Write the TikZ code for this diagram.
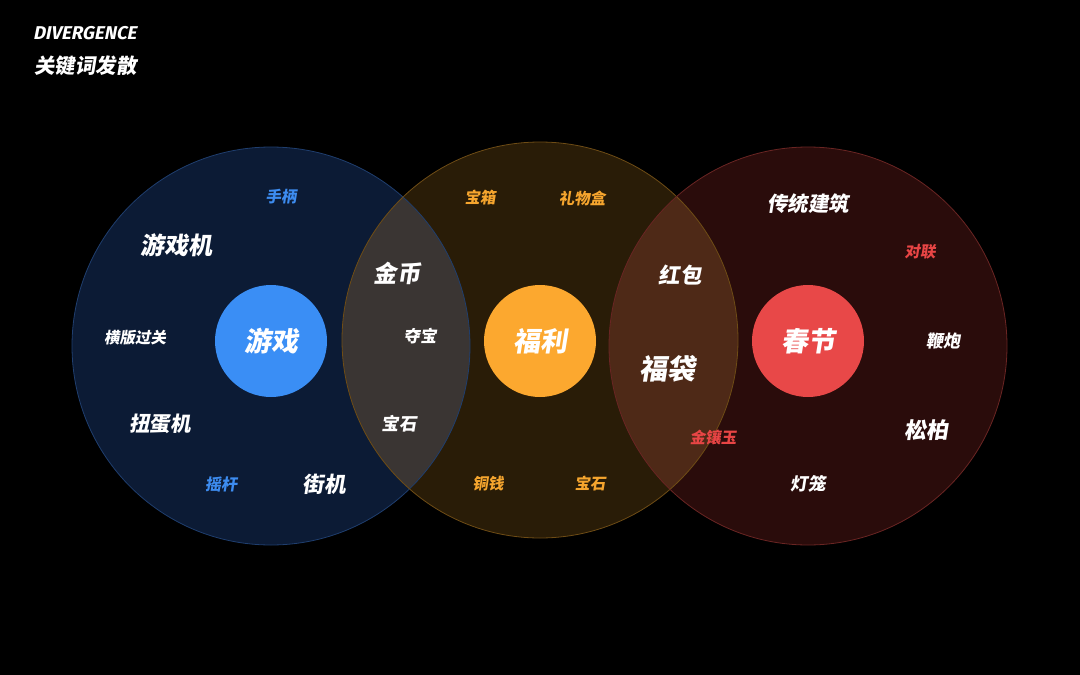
\documentclass[tikz,border=0pt]{standalone}
\usepackage{fontspec}
\setmainfont{Noto Sans CJK SC}
\newfontfamily\cjk[FakeSlant=0.16]{Noto Sans CJK SC}
\newfontfamily\latinit[FakeSlant=0.2]{Fira Sans}
\definecolor{bgc}{HTML}{000000}
\definecolor{bluefill}{HTML}{0C1B35}
\definecolor{blueedge}{HTML}{1F3E6E}
\definecolor{orfill}{HTML}{291C07}
\definecolor{oredge}{HTML}{6E4C15}
\definecolor{redfill}{HTML}{2A0C0B}
\definecolor{rededge}{HTML}{6A2523}
\definecolor{ovlA}{HTML}{3A3533}
\definecolor{ovlB}{HTML}{4E2917}
\definecolor{bluec}{HTML}{3A8EF5}
\definecolor{orc}{HTML}{FCA82F}
\definecolor{redc}{HTML}{E84848}
\definecolor{bluetxt}{HTML}{3D8CF0}
\definecolor{ortxt}{HTML}{F5A52E}
\definecolor{redtxt}{HTML}{E84545}
\tikzset{
  kw/.style={inner sep=0pt, text=white, font=\cjk\bfseries\fontsize{#1}{#1}\selectfont},
  kw/.default=16,
  hub/.style={circle, minimum size=112pt, inner sep=0pt, text=white, font=\cjk\bfseries\fontsize{27}{27}\selectfont},
}
\begin{document}
\begin{tikzpicture}[x=1pt,y=-1pt]
\fill[bgc] (0,0) rectangle (1080,675);
\useasboundingbox (0,0) rectangle (1080,675);
% big circles
\fill[bluefill] (271,346) circle (199);
\fill[orfill] (540,340) circle (198);
\fill[redfill] (808,346) circle (199);
% overlaps
\begin{scope}
  \clip (271,346) circle (199);
  \fill[ovlA] (540,340) circle (198);
\end{scope}
\begin{scope}
  \clip (540,340) circle (198);
  \fill[ovlB] (808,346) circle (199);
\end{scope}
\draw[blueedge, line width=0.8pt] (271,346) circle (199);
\draw[oredge, line width=0.8pt] (540,340) circle (198);
\draw[rededge, line width=0.8pt] (808,346) circle (199);
% hubs
\node[hub, fill=bluec] (game) at (271,341) {游戏};
\node[hub, fill=orc] (welfare) at (540,341) {福利};
\node[hub, fill=redc] (spring) at (808,341) {春节};
% title
\node[anchor=west, inner sep=0pt, text=white, font=\latinit\bfseries\fontsize{18.5}{18.5}\selectfont] (t1) at (33,33) {DIVERGENCE};
\node[anchor=west, inner sep=0pt, text=white, font=\cjk\bfseries\fontsize{20.5}{20.5}\selectfont] (t2) at (34,66) {关键词发散};
% left circle words
\node[kw=15.5, text=bluetxt] (w1) at (281,197) {手柄};
\node[kw=24] (w2) at (176,245) {游戏机};
\node[kw=15.5] (w3) at (135,338) {横版过关};
\node[kw=20.5] (w4) at (160,424) {扭蛋机};
\node[kw=16, text=bluetxt] (w5) at (221,484) {摇杆};
\node[kw=21.5] (w6) at (324,484) {街机};
% left overlap
\node[kw=23.5] (w7) at (397,273) {金币};
\node[kw=16.5] (w8) at (420,336) {夺宝};
\node[kw=17.5] (w9) at (399,424) {宝石};
% middle
\node[kw=15.5, text=ortxt] (w10) at (480,198) {宝箱};
\node[kw=15.5, text=ortxt] (w11) at (582,198) {礼物盒};
\node[kw=15.5, text=ortxt] (w12) at (488,484) {铜钱};
\node[kw=15.5, text=ortxt] (w13) at (590,484) {宝石};
% right overlap
\node[kw=21.5] (w14) at (680,275) {红包};
\node[kw=28] (w15) at (667,369) {福袋};
\node[kw=15.5, text=redtxt] (w16) at (713,437) {金镶玉};
% right
\node[kw=20.5] (w17) at (808,204) {传统建筑};
\node[kw=15.5, text=redtxt] (w18) at (920,252) {对联};
\node[kw=17] (w19) at (943,341) {鞭炮};
\node[kw=22] (w20) at (926,430) {松柏};
\node[kw=17.5] (w21) at (808,484) {灯笼};
\end{tikzpicture}
\end{document}
